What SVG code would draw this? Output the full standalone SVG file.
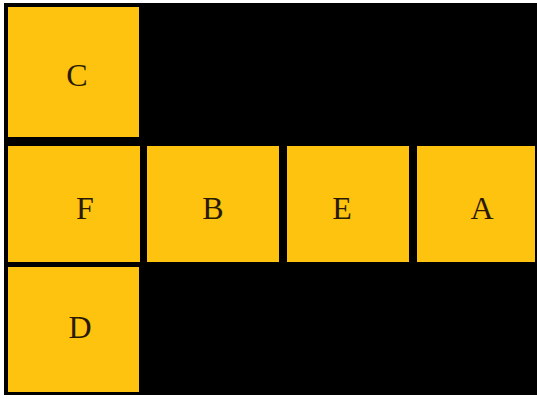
<svg xmlns="http://www.w3.org/2000/svg" width="537" height="399" viewBox="0 0 537 399">
<style>
.sq{fill:#FEC30F;}
.lb{font-family:"Liberation Serif","Times New Roman",serif;font-size:32px;fill:#2a1a02;text-anchor:middle;}
</style>
<rect x="0" y="0" width="537" height="399" fill="#ffffff"/>
<rect x="4" y="3" width="533" height="392" fill="#000000"/>
<g id="C"><rect class="sq" x="8" y="7" width="131" height="130"/><text class="lb" x="77" y="86">C</text></g>
<g id="F"><rect class="sq" x="8" y="146" width="132" height="116"/><text class="lb" x="85" y="219">F</text></g>
<g id="B"><rect class="sq" x="147" y="146" width="132" height="116"/><text class="lb" x="213" y="219">B</text></g>
<g id="E"><rect class="sq" x="287" y="146" width="122" height="116"/><text class="lb" x="342" y="219">E</text></g>
<g id="A"><rect class="sq" x="417" y="146" width="118" height="116"/><text class="lb" x="482" y="219">A</text></g>
<g id="D"><rect class="sq" x="8" y="267" width="131" height="125"/><text class="lb" x="80" y="338">D</text></g>
<g id="connectors"></g>
</svg>
